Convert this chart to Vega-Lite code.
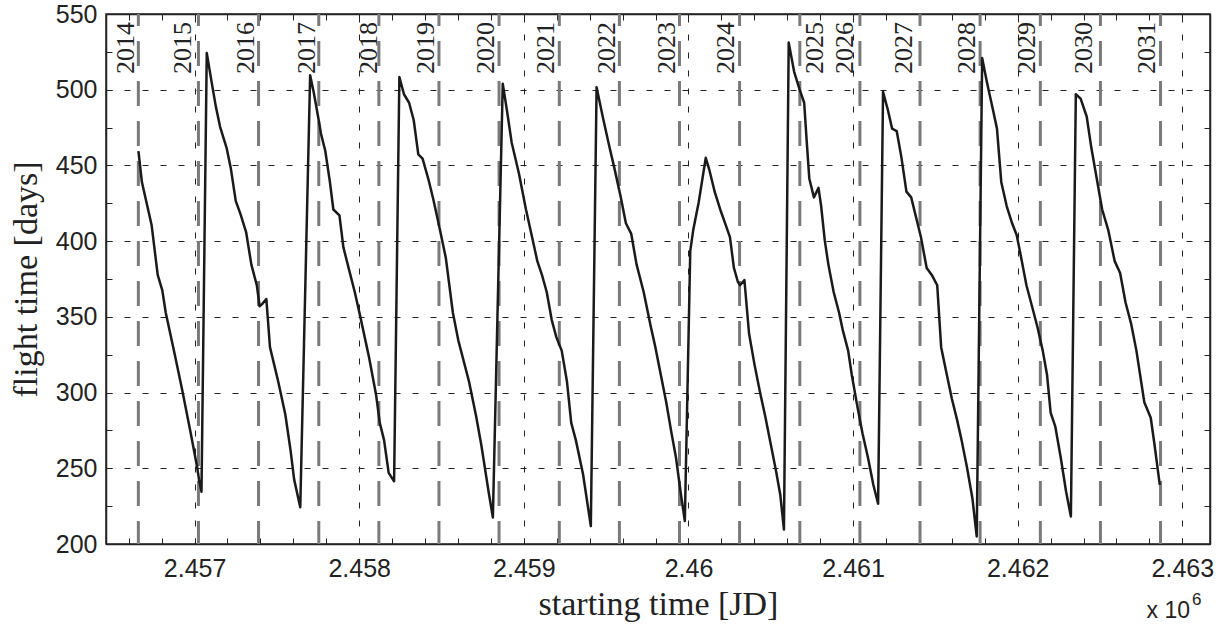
{
  "$schema": "https://vega.github.io/schema/vega-lite/v6.json",
  "width": 1104,
  "height": 530,
  "autosize": "none",
  "padding": {"left": 106, "top": 14, "right": 16, "bottom": 86},
  "background": "white",
  "config": {
    "view": {"stroke": "#222222", "strokeWidth": 1.5},
    "axis": {"labelFont": "Liberation Sans", "titleFont": "Liberation Serif", "titleFontWeight": "normal", "labelColor": "#222222", "titleColor": "#222222"}
  },
  "datasets": {
    "years": [
      {"year": "2014", "jd": 2456658.5, "labelJD": 2456585},
      {"year": "2015", "jd": 2457023.5, "labelJD": 2456929},
      {"year": "2016", "jd": 2457388.5, "labelJD": 2457310},
      {"year": "2017", "jd": 2457754.5, "labelJD": 2457682},
      {"year": "2018", "jd": 2458119.5, "labelJD": 2458059},
      {"year": "2019", "jd": 2458484.5, "labelJD": 2458408},
      {"year": "2020", "jd": 2458849.5, "labelJD": 2458773},
      {"year": "2021", "jd": 2459215.5, "labelJD": 2459137},
      {"year": "2022", "jd": 2459580.5, "labelJD": 2459506},
      {"year": "2023", "jd": 2459945.5, "labelJD": 2459867},
      {"year": "2024", "jd": 2460310.5, "labelJD": 2460231},
      {"year": "2025", "jd": 2460676.5, "labelJD": 2460768},
      {"year": "2026", "jd": 2461041.5, "labelJD": 2460950},
      {"year": "2027", "jd": 2461406.5, "labelJD": 2461309},
      {"year": "2028", "jd": 2461771.5, "labelJD": 2461693},
      {"year": "2029", "jd": 2462137.5, "labelJD": 2462054},
      {"year": "2030", "jd": 2462502.5, "labelJD": 2462403},
      {"year": "2031", "jd": 2462867.5, "labelJD": 2462784}
    ],
    "curve": [
      {"jd": 2456659, "ft": 459.5}, {"jd": 2456680, "ft": 439}, {"jd": 2456739, "ft": 410.7}, {"jd": 2456776, "ft": 377.7},
      {"jd": 2456804, "ft": 367.5}, {"jd": 2456825, "ft": 352.7}, {"jd": 2456879, "ft": 325.5}, {"jd": 2456923, "ft": 302.7},
      {"jd": 2456977, "ft": 273}, {"jd": 2457016, "ft": 250.5}, {"jd": 2457027, "ft": 242.5}, {"jd": 2457042, "ft": 234.5},
      {"jd": 2457074, "ft": 524.3}, {"jd": 2457100, "ft": 507.3}, {"jd": 2457129, "ft": 489}, {"jd": 2457155, "ft": 475.5},
      {"jd": 2457194, "ft": 461.8}, {"jd": 2457220, "ft": 448.2}, {"jd": 2457250, "ft": 426.6}, {"jd": 2457280, "ft": 417.5},
      {"jd": 2457313, "ft": 406}, {"jd": 2457345, "ft": 384.5}, {"jd": 2457378, "ft": 370.9}, {"jd": 2457395, "ft": 357},
      {"jd": 2457410, "ft": 358.4}, {"jd": 2457436, "ft": 361.8}, {"jd": 2457458, "ft": 330}, {"jd": 2457508, "ft": 307.3},
      {"jd": 2457551, "ft": 285.7}, {"jd": 2457583, "ft": 261.8}, {"jd": 2457605, "ft": 242.5}, {"jd": 2457642, "ft": 224.3},
      {"jd": 2457702, "ft": 509.5}, {"jd": 2457724, "ft": 498.2}, {"jd": 2457752, "ft": 481.1}, {"jd": 2457768, "ft": 470.9},
      {"jd": 2457794, "ft": 459.5}, {"jd": 2457822, "ft": 439.1}, {"jd": 2457843, "ft": 420.9}, {"jd": 2457880, "ft": 417},
      {"jd": 2457904, "ft": 395.9}, {"jd": 2457941, "ft": 380}, {"jd": 2457973, "ft": 366.4}, {"jd": 2458006, "ft": 350.5},
      {"jd": 2458060, "ft": 323.2}, {"jd": 2458103, "ft": 298.2}, {"jd": 2458125, "ft": 280}, {"jd": 2458151, "ft": 268.6},
      {"jd": 2458179, "ft": 247}, {"jd": 2458212, "ft": 241.4},
      {"jd": 2458244, "ft": 508.4}, {"jd": 2458272, "ft": 497}, {"jd": 2458303, "ft": 491.4}, {"jd": 2458331, "ft": 480},
      {"jd": 2458359, "ft": 457.3}, {"jd": 2458385, "ft": 454.5}, {"jd": 2458422, "ft": 440.2}, {"jd": 2458450, "ft": 427.7},
      {"jd": 2458482, "ft": 411.8}, {"jd": 2458526, "ft": 389.1}, {"jd": 2458569, "ft": 352.7}, {"jd": 2458602, "ft": 334.5},
      {"jd": 2458667, "ft": 307.3}, {"jd": 2458710, "ft": 284.5}, {"jd": 2458742, "ft": 265.2}, {"jd": 2458786, "ft": 234.5},
      {"jd": 2458812, "ft": 217.5},
      {"jd": 2458872, "ft": 503.9}, {"jd": 2458900, "ft": 484.5}, {"jd": 2458926, "ft": 465.2}, {"jd": 2458970, "ft": 444.8},
      {"jd": 2459013, "ft": 420.9}, {"jd": 2459050, "ft": 402.7}, {"jd": 2459082, "ft": 386.8}, {"jd": 2459110, "ft": 377.7},
      {"jd": 2459139, "ft": 366.4}, {"jd": 2459169, "ft": 348.2}, {"jd": 2459197, "ft": 336.8}, {"jd": 2459230, "ft": 327.7},
      {"jd": 2459262, "ft": 307.3}, {"jd": 2459288, "ft": 280}, {"jd": 2459316, "ft": 268.6}, {"jd": 2459360, "ft": 245.9},
      {"jd": 2459407, "ft": 211.8},
      {"jd": 2459442, "ft": 501.6}, {"jd": 2459479, "ft": 482.3}, {"jd": 2459516, "ft": 464.1}, {"jd": 2459550, "ft": 448.2},
      {"jd": 2459587, "ft": 430}, {"jd": 2459620, "ft": 411.8}, {"jd": 2459652, "ft": 405}, {"jd": 2459685, "ft": 384.5},
      {"jd": 2459728, "ft": 366.4}, {"jd": 2459771, "ft": 343.6}, {"jd": 2459799, "ft": 330}, {"jd": 2459832, "ft": 311.8},
      {"jd": 2459865, "ft": 293.6}, {"jd": 2459897, "ft": 273.2}, {"jd": 2459924, "ft": 257.3}, {"jd": 2459952, "ft": 234.5},
      {"jd": 2459978, "ft": 215.2},
      {"jd": 2460011, "ft": 393.6}, {"jd": 2460029, "ft": 407.3}, {"jd": 2460062, "ft": 425.5}, {"jd": 2460105, "ft": 455},
      {"jd": 2460127, "ft": 447}, {"jd": 2460160, "ft": 432.3}, {"jd": 2460193, "ft": 420.9}, {"jd": 2460226, "ft": 410.7},
      {"jd": 2460252, "ft": 402.7}, {"jd": 2460276, "ft": 382.3}, {"jd": 2460300, "ft": 373.2}, {"jd": 2460313, "ft": 370.9},
      {"jd": 2460340, "ft": 374.3}, {"jd": 2460368, "ft": 339}, {"jd": 2460401, "ft": 318.6}, {"jd": 2460434, "ft": 300.5},
      {"jd": 2460466, "ft": 284.5}, {"jd": 2460499, "ft": 266.4}, {"jd": 2460532, "ft": 248.2}, {"jd": 2460558, "ft": 232.3},
      {"jd": 2460580, "ft": 209.5},
      {"jd": 2460609, "ft": 531.1}, {"jd": 2460642, "ft": 511.8}, {"jd": 2460674, "ft": 500.5}, {"jd": 2460703, "ft": 491.4},
      {"jd": 2460718, "ft": 466.4}, {"jd": 2460734, "ft": 441.4}, {"jd": 2460762, "ft": 428.9}, {"jd": 2460790, "ft": 435.2},
      {"jd": 2460806, "ft": 423.2}, {"jd": 2460828, "ft": 400.5}, {"jd": 2460850, "ft": 384.5}, {"jd": 2460882, "ft": 366.4},
      {"jd": 2460915, "ft": 352.7}, {"jd": 2460937, "ft": 341.4}, {"jd": 2460970, "ft": 327.7}, {"jd": 2460992, "ft": 311.8},
      {"jd": 2461025, "ft": 291.4}, {"jd": 2461057, "ft": 273.2}, {"jd": 2461090, "ft": 257.3}, {"jd": 2461123, "ft": 239.1},
      {"jd": 2461152, "ft": 226.6},
      {"jd": 2461182, "ft": 498.6}, {"jd": 2461211, "ft": 486.8}, {"jd": 2461237, "ft": 474.3}, {"jd": 2461265, "ft": 472.7},
      {"jd": 2461294, "ft": 455}, {"jd": 2461324, "ft": 432.7}, {"jd": 2461353, "ft": 428.9}, {"jd": 2461381, "ft": 416.4},
      {"jd": 2461412, "ft": 402.7}, {"jd": 2461447, "ft": 382.3}, {"jd": 2461478, "ft": 377.7}, {"jd": 2461511, "ft": 370.9},
      {"jd": 2461535, "ft": 330}, {"jd": 2461565, "ft": 314.1}, {"jd": 2461600, "ft": 295.9}, {"jd": 2461631, "ft": 282.3},
      {"jd": 2461659, "ft": 268.6}, {"jd": 2461692, "ft": 250.5}, {"jd": 2461725, "ft": 230}, {"jd": 2461751, "ft": 205},
      {"jd": 2461784, "ft": 520.9}, {"jd": 2461813, "ft": 505}, {"jd": 2461845, "ft": 489.1}, {"jd": 2461874, "ft": 474.3},
      {"jd": 2461900, "ft": 439.1}, {"jd": 2461933, "ft": 423.2}, {"jd": 2461966, "ft": 411.8}, {"jd": 2461994, "ft": 403.9},
      {"jd": 2462021, "ft": 389.1}, {"jd": 2462053, "ft": 370.9}, {"jd": 2462086, "ft": 357.3}, {"jd": 2462119, "ft": 343.6},
      {"jd": 2462152, "ft": 327.7}, {"jd": 2462178, "ft": 311.8}, {"jd": 2462200, "ft": 286.8}, {"jd": 2462228, "ft": 277.7},
      {"jd": 2462261, "ft": 257.3}, {"jd": 2462294, "ft": 234.5}, {"jd": 2462323, "ft": 218.2},
      {"jd": 2462353, "ft": 497}, {"jd": 2462382, "ft": 494.1}, {"jd": 2462419, "ft": 482.3}, {"jd": 2462447, "ft": 461.8},
      {"jd": 2462480, "ft": 441.4}, {"jd": 2462513, "ft": 420.9}, {"jd": 2462550, "ft": 407.3}, {"jd": 2462589, "ft": 386.8},
      {"jd": 2462622, "ft": 378.9}, {"jd": 2462655, "ft": 359.5}, {"jd": 2462688, "ft": 345.9}, {"jd": 2462721, "ft": 327.7},
      {"jd": 2462769, "ft": 293.6}, {"jd": 2462808, "ft": 283.4}, {"jd": 2462830, "ft": 266.4}, {"jd": 2462863, "ft": 239.1}
    ]
  },
  "resolve": {"axis": {"x": "independent", "y": "independent"}},
  "layer": [
    {
      "data": {"name": "years"},
      "mark": {"type": "rule", "stroke": "#7a7a7a", "strokeWidth": 3, "strokeDash": [25, 15], "strokeDashOffset": 13},
      "encoding": {
        "x": {
          "field": "jd", "type": "quantitative",
          "scale": {"domain": [2456462, 2463168], "nice": false, "zero": false},
          "axis": {
            "orient": "bottom",
            "values": [2456600, 2456800, 2457000, 2457200, 2457400, 2457600, 2457800, 2458000, 2458200, 2458400, 2458600, 2458800, 2459000, 2459200, 2459400, 2459600, 2459800, 2460000, 2460200, 2460400, 2460600, 2460800, 2461000, 2461200, 2461400, 2461600, 2461800, 2462000, 2462200, 2462400, 2462600, 2462800, 2463000],
            "labelExpr": "datum.value % 1000 === 0 ? format(datum.value / 1000000, '.4~f') : ''",
            "labelOverlap": false, "labelFlush": false,
            "labelFontSize": 25, "labelPadding": 18,
            "tickSize": -6, "tickColor": "#222222", "tickWidth": 1,
            "domain": true, "domainColor": "#222222", "domainWidth": 1.5,
            "grid": true, "gridColor": "#222222", "gridWidth": 1, "gridDash": [6, 12],
            "gridOpacity": {"condition": {"test": "datum.value % 1000 === 0", "value": 1}, "value": 0},
            "title": "starting time [JD]", "titleFontSize": 34, "titlePadding": 6
          }
        }
      }
    },
    {
      "data": {"name": "curve"},
      "mark": {"type": "line", "stroke": "#1a1a1a", "strokeWidth": 2.5, "strokeJoin": "round"},
      "encoding": {
        "x": {
          "field": "jd", "type": "quantitative",
          "axis": {
            "orient": "top",
            "values": [2456600, 2456800, 2457000, 2457200, 2457400, 2457600, 2457800, 2458000, 2458200, 2458400, 2458600, 2458800, 2459000, 2459200, 2459400, 2459600, 2459800, 2460000, 2460200, 2460400, 2460600, 2460800, 2461000, 2461200, 2461400, 2461600, 2461800, 2462000, 2462200, 2462400, 2462600, 2462800, 2463000],
            "labels": false, "grid": false, "title": null,
            "tickSize": -6, "tickColor": "#222222", "tickWidth": 1,
            "domain": true, "domainColor": "#222222", "domainWidth": 1.5
          }
        },
        "y": {
          "field": "ft", "type": "quantitative",
          "scale": {"domain": [200, 550], "nice": false, "zero": false},
          "axis": {
            "orient": "right",
            "values": [200, 225, 250, 275, 300, 325, 350, 375, 400, 425, 450, 475, 500, 525, 550],
            "labels": false, "grid": false, "title": null,
            "tickSize": -6, "tickColor": "#222222", "tickWidth": 1,
            "domain": true, "domainColor": "#222222", "domainWidth": 1.5
          }
        }
      }
    },
    {
      "data": {"name": "years"},
      "mark": {"type": "text", "angle": 270, "align": "right", "baseline": "middle", "dx": -8, "font": "Liberation Serif", "fontSize": 26, "fill": "#222222"},
      "encoding": {
        "x": {"field": "labelJD", "type": "quantitative", "axis": null},
        "y": {
          "datum": 550, "type": "quantitative",
          "axis": {
            "orient": "left",
            "values": [200, 225, 250, 275, 300, 325, 350, 375, 400, 425, 450, 475, 500, 525, 550],
            "labelExpr": "datum.value % 50 === 0 ? datum.label : ''",
            "labelOverlap": false, "labelFlush": false,
            "labelFontSize": 25, "labelPadding": 15,
            "tickSize": -6, "tickColor": "#222222", "tickWidth": 1,
            "domain": true, "domainColor": "#222222", "domainWidth": 1.5,
            "grid": true, "gridColor": "#222222", "gridWidth": 1, "gridDash": [6, 12],
            "gridOpacity": {"condition": {"test": "datum.value % 50 === 0", "value": 1}, "value": 0},
            "title": "flight time [days]", "titleFontSize": 34, "titlePadding": 12
          }
        },
        "text": {"field": "year"}
      }
    },
    {
      "data": {"values": [{"t": "x 10"}]},
      "mark": {"type": "text", "align": "right", "baseline": "alphabetic", "dx": -20, "dy": 74, "font": "Liberation Sans", "fontSize": 23, "fill": "#222222"},
      "encoding": {
        "x": {"datum": 2463168, "type": "quantitative", "axis": null},
        "y": {"datum": 200, "type": "quantitative", "axis": null},
        "text": {"field": "t"}
      }
    },
    {
      "data": {"values": [{"t": "6"}]},
      "mark": {"type": "text", "align": "left", "baseline": "alphabetic", "dx": -18, "dy": 61, "font": "Liberation Sans", "fontSize": 17, "fill": "#222222"},
      "encoding": {
        "x": {"datum": 2463168, "type": "quantitative", "axis": null},
        "y": {"datum": 200, "type": "quantitative", "axis": null},
        "text": {"field": "t"}
      }
    }
  ]
}
